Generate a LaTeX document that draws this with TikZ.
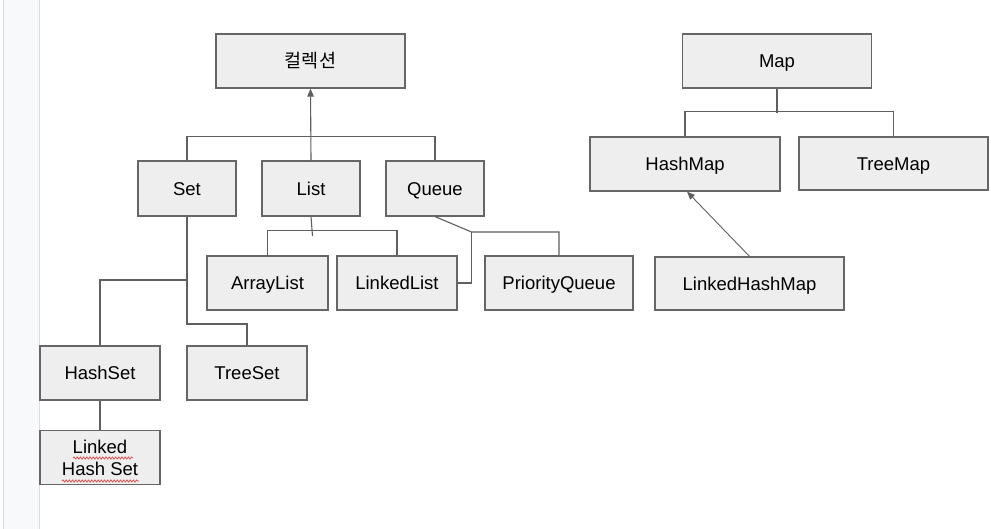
\documentclass[tikz,border=0pt]{standalone}
\usepackage{fontspec}
\setmainfont{Liberation Sans}
\newfontfamily\krfont{Noto Sans CJK KR}
\usetikzlibrary{arrows.meta,decorations.pathmorphing,calc}
\definecolor{boxfill}{HTML}{EEEEEE}
\definecolor{boxline}{HTML}{666666}
\definecolor{conn}{HTML}{5F5F5F}
\definecolor{stripfill}{HTML}{F8F9FA}
\definecolor{stripline}{HTML}{DADCE0}
\definecolor{squig}{HTML}{E04848}
\begin{document}
\begin{tikzpicture}[x=1pt,y=-1pt,
  basebox/.style={draw=boxline,fill=boxfill,line width=1.2pt,inner sep=0pt,
    minimum height=54pt,font=\fontsize{18.5}{22}\selectfont,text=black,align=center},
  cbox/.style={basebox,text height=17pt,text depth=3.8pt},
  wire/.style={draw=conn,line width=1.1pt},
  arrowwire/.style={wire,-{Triangle[length=8pt,width=6.5pt]}},
  spell/.style={draw=squig,line width=0.7pt,decorate,
    decoration={snake,amplitude=1.1pt,segment length=3.2pt}}]
\useasboundingbox (0,0) rectangle (991,529);
\fill[white] (0,0) rectangle (991,529);
\fill[stripfill] (3,0) rectangle (39,529);
\draw[stripline,line width=1pt] (3,0) -- (3,529);
\draw[stripline,line width=1pt] (39.5,0) -- (39.5,529);

% nodes
\node[cbox,minimum width=189pt] (coll) at (310.5,61) {\krfont 컬렉션};
\node[cbox,minimum width=189pt] (map) at (777,61) {Map};
\node[cbox,minimum width=98pt,minimum height=55pt] (set) at (187,188.5) {Set};
\node[cbox,minimum width=98pt,minimum height=55pt] (list) at (311,188.5) {List};
\node[cbox,minimum width=98pt,minimum height=55pt] (queue) at (435,188.5) {Queue};
\node[cbox,minimum width=190pt] (hashmap) at (685,164) {HashMap};
\node[cbox,minimum width=189pt,minimum height=53pt] (treemap) at (893.5,163.5) {TreeMap};
\node[cbox,minimum width=121pt] (arraylist) at (267.5,283) {ArrayList};
\node[cbox,minimum width=120pt] (linkedlist) at (397,283) {LinkedList};
\node[cbox,minimum width=148pt] (pq) at (559,283) {PriorityQueue};
\node[cbox,minimum width=189pt,minimum height=53pt] (lhm) at (749.5,283.5) {LinkedHashMap};
\node[cbox,minimum width=120pt] (hashset) at (100,373) {HashSet};
\node[cbox,minimum width=120pt] (treeset) at (247,373) {TreeSet};
\node[basebox,minimum width=120pt] (lhs) at (100,457.5) {Linked\\Hash Set};

% spell-check underlines
\draw[spell] (73,458) -- (133,458);
\draw[spell] (62,481) -- (139,481);

% collection tree
\draw[wire] (set.north) -- ++(0,-24) -| (queue.north);
\draw[arrowwire] (list.north) -- (coll.south);

% list children
\coordinate (lstub) at (312.5,236);
\draw[wire] (list.south) -- (lstub);
\draw[wire] (arraylist.north) -- ++(0,-25) -| (linkedlist.north);

% queue children
\coordinate (qj) at (471.5,232);
\draw[wire] (queue.south) -- (qj) -| (pq.north);
\draw[wire] (qj) |- (linkedlist.east);

% set children
\coordinate (sj1) at (187,280);
\coordinate (sj2) at (187,324);
\draw[wire] (set.south) -- (sj2) -| (treeset.north);
\draw[wire] (sj1) -| (hashset.north);
\draw[wire] (hashset.south) -- (lhs.north);

% map tree
\draw[wire] (map.south) -- ++(0,24);
\draw[wire] (hashmap.north) -- ++(0,-25) -| (treemap.north);
\draw[arrowwire,line width=0.9pt] (lhm.north) -- ($(hashmap.south)+(2,0)$);
\end{tikzpicture}
\end{document}
